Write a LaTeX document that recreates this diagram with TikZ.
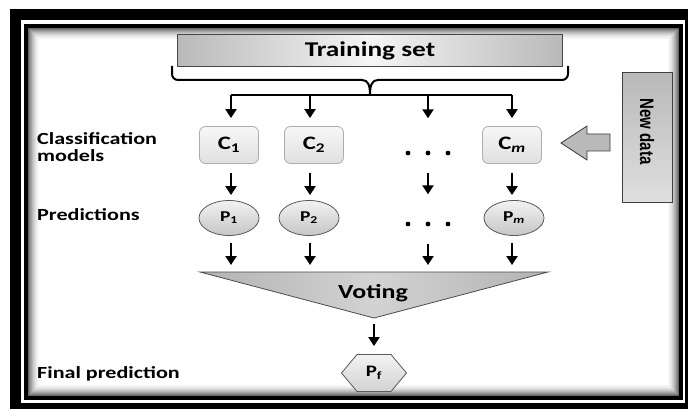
\documentclass[tikz,border=0pt]{standalone}
\usepackage{fontspec}
\newfontfamily\labfont{Carlito}[FakeStretch=1.3]
\newfontfamily\ndfont{Liberation Sans}
\usetikzlibrary{arrows.meta}
\usetikzlibrary{shapes.geometric}
\usetikzlibrary{shapes.symbols}
\usetikzlibrary{positioning}

\begin{document}
\begin{tikzpicture}[x=1pt,y=-1pt,
    arr/.style={-{Triangle[width=11pt,length=9pt]},line width=2.2pt},
    lab/.style={inner sep=0pt,align=left,font=\labfont\bfseries\fontsize{17}{17}\selectfont},
    train node/.style={draw=gray!55!black,line width=1pt,left color=gray!55,right color=gray!55,middle color=gray!8,minimum width=385pt,minimum height=32pt,inner sep=0pt,font=\labfont\bfseries\fontsize{21}{21}\selectfont},
    model node/.style={draw=gray!65,line width=0.8pt,rounded corners=6pt,top color=gray!6,bottom color=gray!25,minimum width=59pt,minimum height=37pt,inner sep=0pt,font=\labfont\bfseries\fontsize{19}{19}\selectfont},
    pred node/.style={ellipse,draw=gray!70!black,line width=0.8pt,top color=gray!10,bottom color=gray!45,minimum width=60pt,minimum height=35pt,inner sep=0pt,font=\labfont\bfseries\fontsize{15}{15}\selectfont},
    empty node/.style={minimum width=59pt,minimum height=37pt,inner sep=0pt},
    final node/.style={signal,signal to=east and west,signal pointer angle=100,draw=gray!70!black,line width=0.8pt,top color=gray!10,bottom color=gray!35,minimum width=65pt,minimum height=37pt,inner sep=0pt,font=\labfont\bfseries\fontsize{16}{16}\selectfont},
    data node/.style={draw=gray!50!black,line width=1pt,top color=gray!55,bottom color=gray!25,inner sep=0pt,font=\ndfont\bfseries\fontsize{15}{15}\selectfont}]
   \useasboundingbox (0,0) rectangle (688,409);
   % frame
   \fill[black] (10,9) rectangle (700,420);
   \fill[white] (21,20) rectangle (685,403);
   \fill[black] (24,24) rectangle (683,400);
   \foreach \i/\c in {0/60,1/50,2/42,3/35,4/28,5/22,6/17,7/12,8/8,9/5,10/3,11/0}
     \fill[black!\c] (28+\i,28+\i) rectangle (679-\i,396-\i);

   % training set and brace
   \node[train node] (train) at (370,51) {Training set};
   \coordinate (cusp) at (370,95);
   \coordinate (bar1) at (231,95);
   \coordinate (bar2) at (310,95);
   \coordinate (bar3) at (428,95);
   \coordinate (bar4) at (512,95);
   \draw[line width=2pt] (172,66) [rounded corners=6pt] -- (172,80) [sharp corners] -- (362,80)
      .. controls (368,80) and (370,85) .. (cusp) .. controls (370,85) and (372,80) .. (378,80)
      [rounded corners=6pt] -- (568,80) [sharp corners] -- (568,66);
   \draw[line width=2pt] (bar1) -- (bar4);

   % labels
   \node[lab,anchor=north west] (lclass) at (37,132) {Classification\\models};
   \node[lab,anchor=base west] (lpred) at (37,220) {Predictions};
   \node[lab,anchor=base west] (lfinal) at (37,378) {Final prediction};

   % models
   \node[model node] (c1) at (229,145) {C\textsubscript{1}};
   \node[model node] (c2) at (314,145) {C\textsubscript{2}};
   \node[empty node] (c3) at (428,145) {};
   \node[model node] (cm) at (512,145) {C\textsubscript{\itshape m}};
   \node[pred node] (p1) at (229,218) {P\textsubscript{1}};
   \node[pred node] (p2) at (309,218) {P\textsubscript{2}};
   \node[empty node] (p3) at (428,218) {};
   \node[pred node] (pm) at (514,218) {P\textsubscript{\itshape m}};
   \foreach \dx in {-20,0,20} {
     \fill ([xshift=\dx pt,yshift=-8pt]c3.center) circle (2.4);
     \fill ([xshift=\dx pt,yshift=-6pt]p3.center) circle (2.4);
   }

   % voting
   \coordinate (vl) at (200,272);
   \coordinate (vr) at (548,272);
   \coordinate (vt) at (374,318);
   \draw[draw=gray!60!black,line width=0.8pt,left color=gray!60,right color=gray!60,middle color=gray!35] (vl) -- (vr) -- (vt) -- cycle;
   \node[font=\labfont\bfseries\fontsize{20}{20}\selectfont] (vote) at (373,293) {Voting};
   \node[final node] (pf) at (374,373) {P\textsubscript{f}};

   % new data
   \node[data node,rotate=-90,minimum width=129pt,minimum height=50pt] (newdata) at (647,137.5) {\scalebox{1}[1.3]{New data}\hspace*{12pt}};
   \coordinate (na) at (561,143);
   \draw[fill=gray!55,draw=gray!45!black,line width=0.8pt] (na) -- ++(26,-17) -- ++(0,8) -- ++(23,0) -- ++(0,17) -- ++(-23,0) -- ++(0,9) -- cycle;

   % arrows
   \path[arr,shorten >=8pt] (bar1) edge (bar1 |- c1.north);
   \path[arr,shorten >=8pt] (bar2) edge (bar2 |- c2.north);
   \path[arr,shorten >=8pt] (bar3) edge (bar3 |- c3.north);
   \path[arr,shorten >=8pt] (bar4) edge (bar4 |- cm.north);
   \path[arr,shorten <=9pt,shorten >=5pt] (bar1 |- c1.south) edge (bar1 |- p1.north);
   \path[arr,shorten <=9pt,shorten >=5pt] (bar2 |- c2.south) edge (bar2 |- p2.north);
   \path[arr,shorten <=9pt,shorten >=5pt] (c3.south) edge (p3.north);
   \path[arr,shorten <=9pt,shorten >=5pt] (bar4 |- cm.south) edge (bar4 |- pm.north);
   \path[arr,shorten <=7pt,shorten >=7pt] (bar1 |- p1.south) edge (bar1 |- vl);
   \path[arr,shorten <=7pt,shorten >=7pt] (bar2 |- p2.south) edge (bar2 |- vl);
   \path[arr,shorten <=7pt,shorten >=7pt] (p3.south) edge (p3.south |- vl);
   \path[arr,shorten <=7pt,shorten >=7pt] (bar4 |- pm.south) edge (bar4 |- vl);
   \path[arr,shorten <=6pt,shorten >=8pt] (vt) edge (pf.north);
\end{tikzpicture}
\end{document}
